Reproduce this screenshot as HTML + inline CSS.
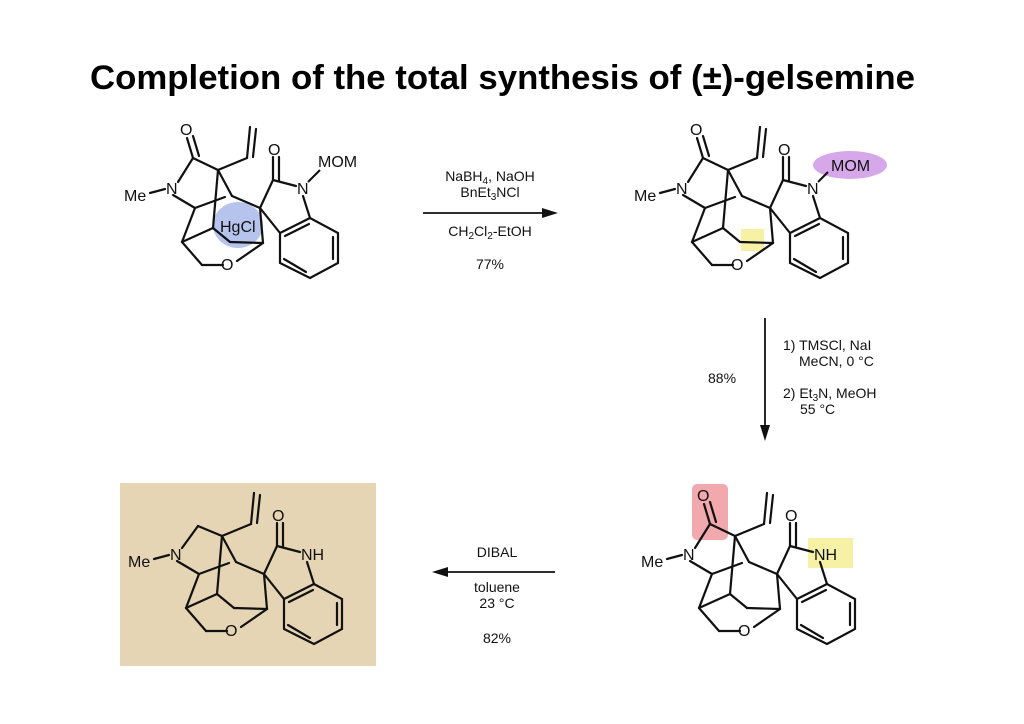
<!DOCTYPE html>
<html><head><meta charset="utf-8"><style>
html,body{margin:0;padding:0;background:#fff}
svg{display:block}
text{font-family:"Liberation Sans",sans-serif;fill:#111}
</style></head><body>
<svg width="1024" height="724" viewBox="0 0 1024 724" xmlns="http://www.w3.org/2000/svg">
<defs>
<g id="core" stroke="#111" stroke-width="2.2" fill="none" stroke-linecap="round">
  <line x1="150" y1="193" x2="165" y2="189"/>
  <line x1="173" y1="195" x2="195" y2="208"/>
  <line x1="195" y1="208" x2="182" y2="242"/>
  <line x1="195" y1="208" x2="225" y2="197"/>
  <line x1="218" y1="170" x2="232" y2="196"/>
  <line x1="218" y1="170" x2="213" y2="228"/>
  <line x1="218" y1="170" x2="247" y2="158"/>
  <line x1="247" y1="158" x2="250" y2="127"/>
  <line x1="253" y1="157" x2="256" y2="129"/>
  <line x1="232" y1="196" x2="260" y2="208"/>
  <line x1="260" y1="208" x2="273" y2="180"/>
  <line x1="273" y1="180" x2="273" y2="157"/>
  <line x1="279" y1="180" x2="279" y2="157"/>
  <line x1="273" y1="180" x2="296" y2="186"/>
  <line x1="260" y1="208" x2="263" y2="243"/>
  <line x1="260" y1="208" x2="280" y2="233"/>
  <line x1="263" y1="243" x2="230" y2="242"/>
  <line x1="230" y1="242" x2="213" y2="228"/>
  <line x1="182" y1="242" x2="213" y2="228"/>
  <line x1="182" y1="242" x2="202" y2="265"/>
  <line x1="202" y1="265" x2="223" y2="265"/>
  <line x1="237" y1="261" x2="263" y2="243"/>
  <line x1="303" y1="196" x2="310" y2="218"/>
  <polygon points="280,233 310,218 338,233 338,263 310,278 280,263"/>
  <line x1="284" y1="259" x2="306" y2="272"/>
  <line x1="333" y1="237" x2="333" y2="259"/>
  <line x1="285" y1="236" x2="309" y2="224"/>
</g>
<g id="lactam" stroke="#111" stroke-width="2.2" fill="none" stroke-linecap="round">
  <line x1="193" y1="158" x2="178" y2="182"/>
  <line x1="193" y1="158" x2="218" y2="170"/>
  <line x1="193" y1="158" x2="187" y2="138"/>
  <line x1="199" y1="156" x2="193" y2="136"/>
</g>
</defs>

<text x="90" y="89" font-size="34" font-weight="bold" textLength="825" lengthAdjust="spacingAndGlyphs" style="fill:#000">Completion of the total synthesis of  (±)-gelsemine</text>

<!-- molecule 1 -->
<ellipse cx="238" cy="225" rx="25" ry="23" fill="#a9b8ea" opacity="0.85"/>
<use href="#core"/><use href="#lactam"/>
<g font-size="16">
<text x="180" y="135">O</text><text x="124" y="201">Me</text><text x="166" y="194">N</text>
<text x="268" y="155">O</text><text x="297" y="194">N</text><text x="318" y="167">MOM</text>
<text x="221" y="270">O</text><text x="220" y="232">HgCl</text>
</g>
<line x1="308" y1="182" x2="320" y2="170" stroke="#111" stroke-width="2"/>

<!-- arrow 1 -->
<g font-size="14" text-anchor="middle">
<text x="490" y="181">NaBH<tspan font-size="10" dy="3">4</tspan><tspan dy="-3">, NaOH</tspan></text>
<text x="490" y="197">BnEt<tspan font-size="10" dy="3">3</tspan><tspan dy="-3">NCl</tspan></text>
<text x="490" y="236">CH<tspan font-size="10" dy="3">2</tspan><tspan dy="-3">Cl</tspan><tspan font-size="10" dy="3">2</tspan><tspan dy="-3">-EtOH</tspan></text>
<text x="490" y="269">77%</text>
</g>
<line x1="423" y1="213" x2="545" y2="213" stroke="#111" stroke-width="1.8"/>
<polygon points="558,213 542,208 542,218" fill="#111"/>

<!-- molecule 2 -->
<rect x="741" y="229" width="23" height="22" fill="#f7f1a6"/>
<ellipse cx="850" cy="165" rx="37" ry="14" fill="#d6a8ea"/>
<g transform="translate(510,0)"><use href="#core"/><use href="#lactam"/>
<g font-size="16">
<text x="180" y="135">O</text><text x="124" y="201">Me</text><text x="166" y="194">N</text>
<text x="268" y="155">O</text><text x="297" y="194">N</text><text x="321" y="171">MOM</text>
<text x="221" y="270">O</text></g>
<line x1="308" y1="182" x2="318" y2="172" stroke="#111" stroke-width="2"/></g>

<!-- vertical arrow -->
<line x1="765" y1="318" x2="765" y2="428" stroke="#111" stroke-width="1.8"/>
<polygon points="765,441 760,425 770,425" fill="#111"/>
<g font-size="14">
<text x="708" y="383">88%</text>
<text x="783" y="350">1) TMSCl, NaI</text>
<text x="799" y="366">MeCN, 0 °C</text>
<text x="783" y="398">2) Et<tspan font-size="10" dy="3">3</tspan><tspan dy="-3">N, MeOH</tspan></text>
<text x="800" y="414">55 °C</text>
</g>

<!-- molecule 3 -->
<rect x="692" y="484" width="36" height="56" rx="5" fill="#f1a9ae"/>
<rect x="808" y="538" width="45" height="30" fill="#f7f1a6"/>
<g transform="translate(517,366)"><use href="#core"/><use href="#lactam"/>
<g font-size="16">
<text x="180" y="135">O</text><text x="124" y="201">Me</text><text x="166" y="194">N</text>
<text x="268" y="155">O</text><text x="297" y="194">NH</text>
<text x="221" y="270">O</text></g></g>

<!-- bottom arrow -->
<line x1="555" y1="572" x2="445" y2="572" stroke="#111" stroke-width="1.8"/>
<polygon points="432,572 448,567 448,577" fill="#111"/>
<g font-size="14" text-anchor="middle">
<text x="497" y="557">DIBAL</text>
<text x="497" y="592">toluene</text>
<text x="497" y="608">23 °C</text>
<text x="497" y="643">82%</text>
</g>

<!-- molecule 4 -->
<rect x="120" y="483" width="256" height="183" fill="#e5d5b4"/>
<g transform="translate(4,366)"><use href="#core"/>
<g stroke="#111" stroke-width="2.2" stroke-linecap="round">
<line x1="178" y1="182" x2="194" y2="160"/><line x1="194" y1="160" x2="218" y2="170"/></g>
<g font-size="16">
<text x="124" y="201">Me</text><text x="166" y="194">N</text>
<text x="268" y="155">O</text><text x="297" y="194">NH</text>
<text x="221" y="270">O</text></g></g>
</svg>
</body></html>
